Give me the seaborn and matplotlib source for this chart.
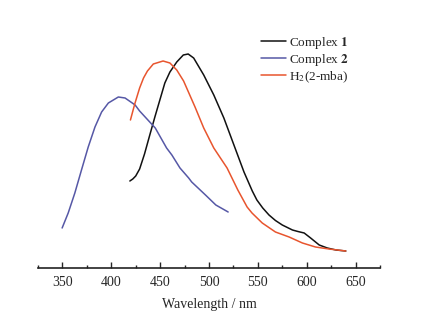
import numpy as np
import pandas as pd
import matplotlib
matplotlib.use("Agg")
import matplotlib.pyplot as plt
import seaborn as sns
from matplotlib.ticker import MultipleLocator

sns.set_style("white")
plt.rcParams["font.family"] = ["Liberation Serif", "DejaVu Serif"]
plt.rcParams["mathtext.fontset"] = "stix"

# emission spectra (arbitrary intensity units)
wl_c1 = [419, 422, 425, 429, 434, 439.4, 444.6, 449.7, 454.8, 460, 467, 473.7, 478.7, 484.3, 494.6, 504.9,
         515.2, 525.5, 535.8, 544.3, 549, 555, 561.4, 568, 575, 585.4, 591, 597.4, 604, 612.8, 621, 630, 640]
int_c1 = [87, 89, 92, 99, 114, 133, 151, 168, 185, 196, 206, 213, 214, 210, 193, 173,
          150, 123, 96, 77, 68, 60, 53, 47.5, 43, 38, 36.5, 35, 30, 23, 20, 18, 17]

wl_c2 = [349.7, 355.9, 362.7, 369.5, 376.4, 383.3, 390.1, 397, 407.2, 414.1, 424.4, 429, 445,
         456.6, 462, 470.3, 479.2, 482.3, 496.4, 507, 519.6]
int_c2 = [40, 55, 75, 98, 121, 141, 156, 165, 171, 170, 163, 157, 140,
          120, 113, 100, 90, 86, 73, 63, 56]

wl_lig = [419.6, 424, 429, 433, 437, 443, 453, 460, 467, 474, 485.7, 494.6, 504.9, 518.5, 529.5,
          539, 544, 554.5, 568, 582, 595.6, 609, 622.8, 640]
int_lig = [148, 164, 180, 190, 197, 204, 207, 205, 198, 187, 161, 140, 120, 100, 78,
           61, 55, 45, 36, 31, 25, 21, 19, 17]

labels = ["Complex $\\mathbf{1}$", "Complex $\\mathbf{2}$", "H$_2$(2-mba)"]
colors = ["#111111", "#5658a6", "#e8552e"]

fig = plt.figure(figsize=(4.22, 3.21), dpi=100)
ax = fig.add_axes([38 / 422, 53 / 321, 342 / 422, 250 / 321])

for wl, inten, lab, col in zip([wl_c1, wl_c2, wl_lig], [int_c1, int_c2, int_lig], labels, colors):
    df = pd.DataFrame({"wl": wl, "I": inten})
    sns.lineplot(data=df, x="wl", y="I", ax=ax, color=col, label=lab, linewidth=1.1)

ax.set_xlim(325, 675)
ax.set_ylim(0, 250)
ax.xaxis.set_major_locator(MultipleLocator(50))
ax.xaxis.set_minor_locator(MultipleLocator(25))
ax.tick_params(axis="x", which="major", direction="in", length=4, width=1, labelsize=10, pad=6, bottom=True)
ax.tick_params(axis="x", which="minor", direction="in", length=2.5, width=1, bottom=True)
ax.set_yticks([])
for s in ["top", "left", "right"]:
    ax.spines[s].set_visible(False)
ax.spines["bottom"].set_linewidth(1.2)
ax.spines["bottom"].set_color("#222222")
ax.set_xlabel("Wavelength / nm", fontsize=10, labelpad=6)
ax.set_ylabel("")

ax.legend(loc="upper left", bbox_to_anchor=(0.636, 0.955), frameon=False, fontsize=9.5,
          handlelength=1.9, handletextpad=0.25, labelspacing=0.1, borderaxespad=0)

fig.savefig("out.png", dpi=100)
